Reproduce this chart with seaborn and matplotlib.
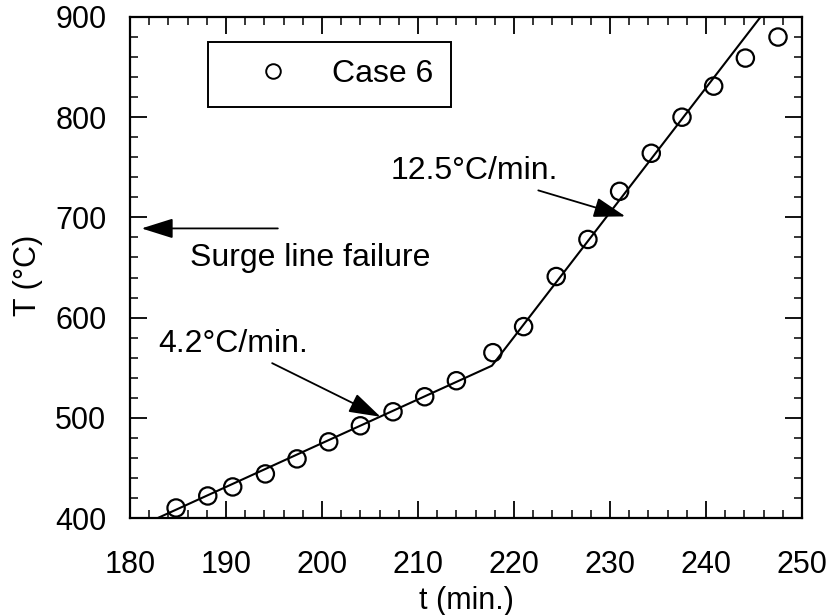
import matplotlib
matplotlib.use("Agg")
import matplotlib.pyplot as plt
from matplotlib.lines import Line2D
from matplotlib.ticker import MultipleLocator
import seaborn as sns
import pandas as pd

# measured data (Case 6)
t_case6 = [184.8, 188.1, 190.7, 194.1, 197.4, 200.7, 204.0, 207.4, 210.7, 214.0,
           217.8, 221.0, 224.4, 227.7, 231.0, 234.3, 237.5, 240.8, 244.1, 247.5]
T_case6 = [410, 422, 431, 444, 459, 476, 492, 506, 521, 537,
           565, 591, 641, 678, 726, 764, 800, 831, 859, 880]

# piecewise linear fit (4.2 and 12.5 C/min)
t_fit = [182.9, 217.7, 246.0]
T_fit = [400, 552, 904]

x_ticks = [180, 190, 200, 210, 220, 230, 240, 250]
y_ticks = [400, 500, 600, 700, 800, 900]

sns.set_theme(style="ticks")
plt.rcParams['font.family'] = ['Liberation Sans', 'DejaVu Sans']
plt.rcParams['text.color'] = 'black'
plt.rcParams['axes.labelcolor'] = 'black'
plt.rcParams['xtick.color'] = 'black'
plt.rcParams['ytick.color'] = 'black'

fig = plt.figure(figsize=(8.36, 6.15), dpi=100)
ax = fig.add_axes([130/836, 1-518/615, (802-130)/836, (518-17)/615])

df_pts = pd.DataFrame({"t": t_case6, "T": T_case6})
df_fit = pd.DataFrame({"t": t_fit, "T": T_fit})

sns.lineplot(data=df_fit, x="t", y="T", ax=ax, color="black", linewidth=1.5,
             estimator=None, sort=False)
sns.scatterplot(data=df_pts, x="t", y="T", ax=ax, marker="o", s=155,
                facecolor="none", edgecolor="black", linewidth=1.6, zorder=3)

ax.set_xlim(180, 250)
ax.set_ylim(400, 900)
ax.set_xticks(x_ticks)
ax.set_yticks(y_ticks)
ax.xaxis.set_minor_locator(MultipleLocator(2))
ax.yaxis.set_minor_locator(MultipleLocator(20))
ax.tick_params(which="both", direction="in", top=True, right=True, color="black")
ax.tick_params(which="major", length=12, width=1.3, labelsize=22)
ax.tick_params(axis="x", which="major", pad=23)
ax.tick_params(axis="y", which="major", pad=17)
ax.tick_params(which="minor", length=6, width=1.1)
for sp in ax.spines.values():
    sp.set_linewidth(1.6)
    sp.set_color("black")

ax.set_xlabel("t (min.)", fontsize=22, labelpad=4)
ax.set_ylabel("T (°C)", fontsize=22)
ax.yaxis.set_label_coords(-0.129, 0.485)

arrow_kw = dict(arrowstyle="-|>,head_length=0.7,head_width=0.22", color="black",
                lw=1.3, mutation_scale=28)

# annotations
ax.annotate("4.2°C/min.", xy=(206.1, 501), xytext=(198.5, 574),
            fontsize=23, ha="right", va="center",
            arrowprops=dict(**arrow_kw, shrinkA=2, shrinkB=0))
ax.annotate("12.5°C/min.", xy=(231.6, 701), xytext=(224.6, 746),
            fontsize=23, ha="right", va="center",
            arrowprops=dict(**arrow_kw, shrinkA=2, shrinkB=0))
ax.annotate("", xy=(181.2, 689), xytext=(195.4, 689),
            arrowprops=dict(**arrow_kw, shrinkA=0, shrinkB=0))
ax.text(186.2, 659, "Surge line failure", fontsize=23, ha="left", va="center")

handle = Line2D([], [], marker="o", linestyle="none", markerfacecolor="none",
                markeredgecolor="black", markersize=10.5, markeredgewidth=1.4)
leg = ax.legend([handle], ["Case 6"], loc="upper left",
                bbox_to_anchor=((208-130)/672, 1-(41.7-17)/501),
                fontsize=23, frameon=True, fancybox=False, handletextpad=0.33,
                borderpad=0.55, borderaxespad=0, handlelength=3.0)
leg.get_frame().set_edgecolor("black")
leg.get_frame().set_linewidth(1.4)
leg.get_frame().set_alpha(1)

fig.savefig("out.png", dpi=100)
